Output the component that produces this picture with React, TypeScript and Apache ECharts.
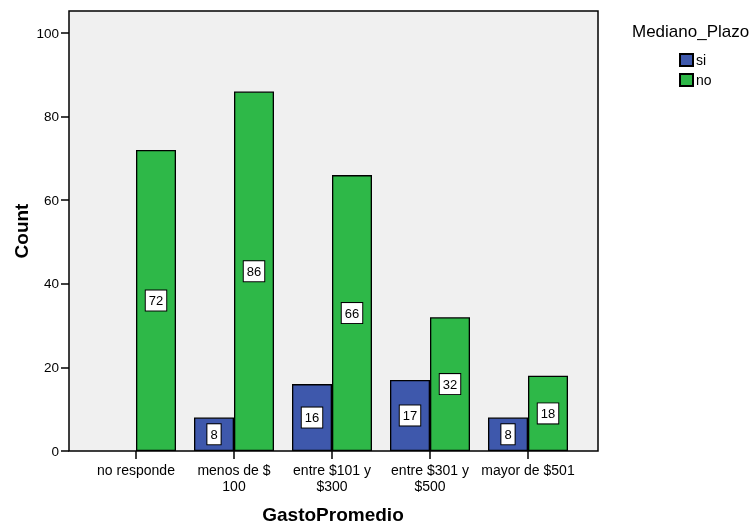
import React, { useEffect, useRef } from "react";
import * as echarts from "echarts";

const categories = ["no responde", "menos de $\n100", "entre $101 y\n$300", "entre $301 y\n$500", "mayor de $501"];
const siValues = [0, 8, 16, 17, 8];
const noValues = [72, 86, 66, 32, 18];
const yTicks = [0, 20, 40, 60, 80, 100];

const FONT = "'Liberation Sans', Arial, sans-serif";
const BLUE = "#3E58AC";
const GREEN = "#2EB848";

export default function App() {
  const ref = useRef<HTMLDivElement>(null);
  useEffect(() => {
    const chart = echarts.init(ref.current!, null, { renderer: "svg" });
    const labelCfg = {
      show: true,
      position: "inside",
      formatter: "{c}",
      color: "#000",
      fontFamily: FONT,
      fontSize: 13,
      backgroundColor: "#fff",
      borderColor: "#000",
      borderWidth: 1,
      padding: [4, 3, 3, 3],
    };
    const toData = (arr: number[]) =>
      arr.map((v) => (v === 0 ? { value: v, label: { show: false }, itemStyle: { borderWidth: 0 } } : v));
    chart.setOption({
      animation: false,
      textStyle: { fontFamily: FONT },
      graphic: [
        {
          type: "rect",
          z: -10,
          shape: { x: 69, y: 11, width: 529, height: 440 },
          style: { fill: "#F0F0F0", stroke: "#000", lineWidth: 1.5 },
        },
        {
          type: "text",
          x: 632,
          y: 31,
          style: { text: "Mediano_Plazo", fontFamily: FONT, fontSize: 17, fill: "#000", textVerticalAlign: "middle" },
        },
        {
          type: "text",
          x: 21,
          y: 231,
          rotation: Math.PI / 2,
          style: {
            text: "Count",
            fontFamily: FONT,
            fontSize: 19,
            fontWeight: "bold",
            fill: "#000",
            textAlign: "center",
            textVerticalAlign: "middle",
          },
        },
        {
          type: "text",
          x: 333,
          y: 514,
          style: {
            text: "GastoPromedio",
            fontFamily: FONT,
            fontSize: 19,
            fontWeight: "bold",
            fill: "#000",
            textAlign: "center",
            textVerticalAlign: "middle",
          },
        },
      ],
      legend: {
        orient: "vertical",
        left: 674,
        top: 48,
        itemWidth: 13,
        itemHeight: 12,
        itemGap: 6,
        icon: "rect",
        textStyle: { fontFamily: FONT, fontSize: 14, color: "#000", padding: [0, 0, 0, -2] },
        data: ["si", "no"],
      },
      grid: { left: 87, top: 33, width: 490, height: 418, containLabel: false, outerBoundsMode: "none" },
      xAxis: {
        type: "category",
        data: categories,
        axisLine: { show: false },
        axisTick: { show: true, alignWithLabel: true, length: 8, lineStyle: { color: "#000", width: 1.5 } },
        axisLabel: { color: "#000", fontSize: 14, fontFamily: FONT, margin: 11, lineHeight: 16, interval: 0 },
      },
      yAxis: {
        type: "value",
        min: 0,
        max: 100,
        interval: 20,
        offset: 18,
        splitLine: { show: false },
        axisLine: { show: false },
        axisTick: { show: true, length: 8, lineStyle: { color: "#000", width: 1.5 } },
        axisLabel: {
          color: "#000",
          fontSize: 13.5,
          fontFamily: FONT,
          margin: 10,
          formatter: (v: number) => (yTicks.includes(v) ? String(v) : ""),
        },
      },
      series: [
        {
          name: "si",
          type: "bar",
          data: toData(siValues),
          barWidth: 40,
          barGap: "0%",
          itemStyle: { color: BLUE, borderColor: "#000", borderWidth: 1.3 },
          label: labelCfg,
        },
        {
          name: "no",
          type: "bar",
          data: toData(noValues),
          barWidth: 40,
          barGap: "0%",
          itemStyle: { color: GREEN, borderColor: "#000", borderWidth: 1.3 },
          label: labelCfg,
        },
      ],
    });
    return () => chart.dispose();
  }, []);
  return <div ref={ref} style={{ position: "fixed", left: 0, top: 0, width: 754, height: 524 }} />;
}
